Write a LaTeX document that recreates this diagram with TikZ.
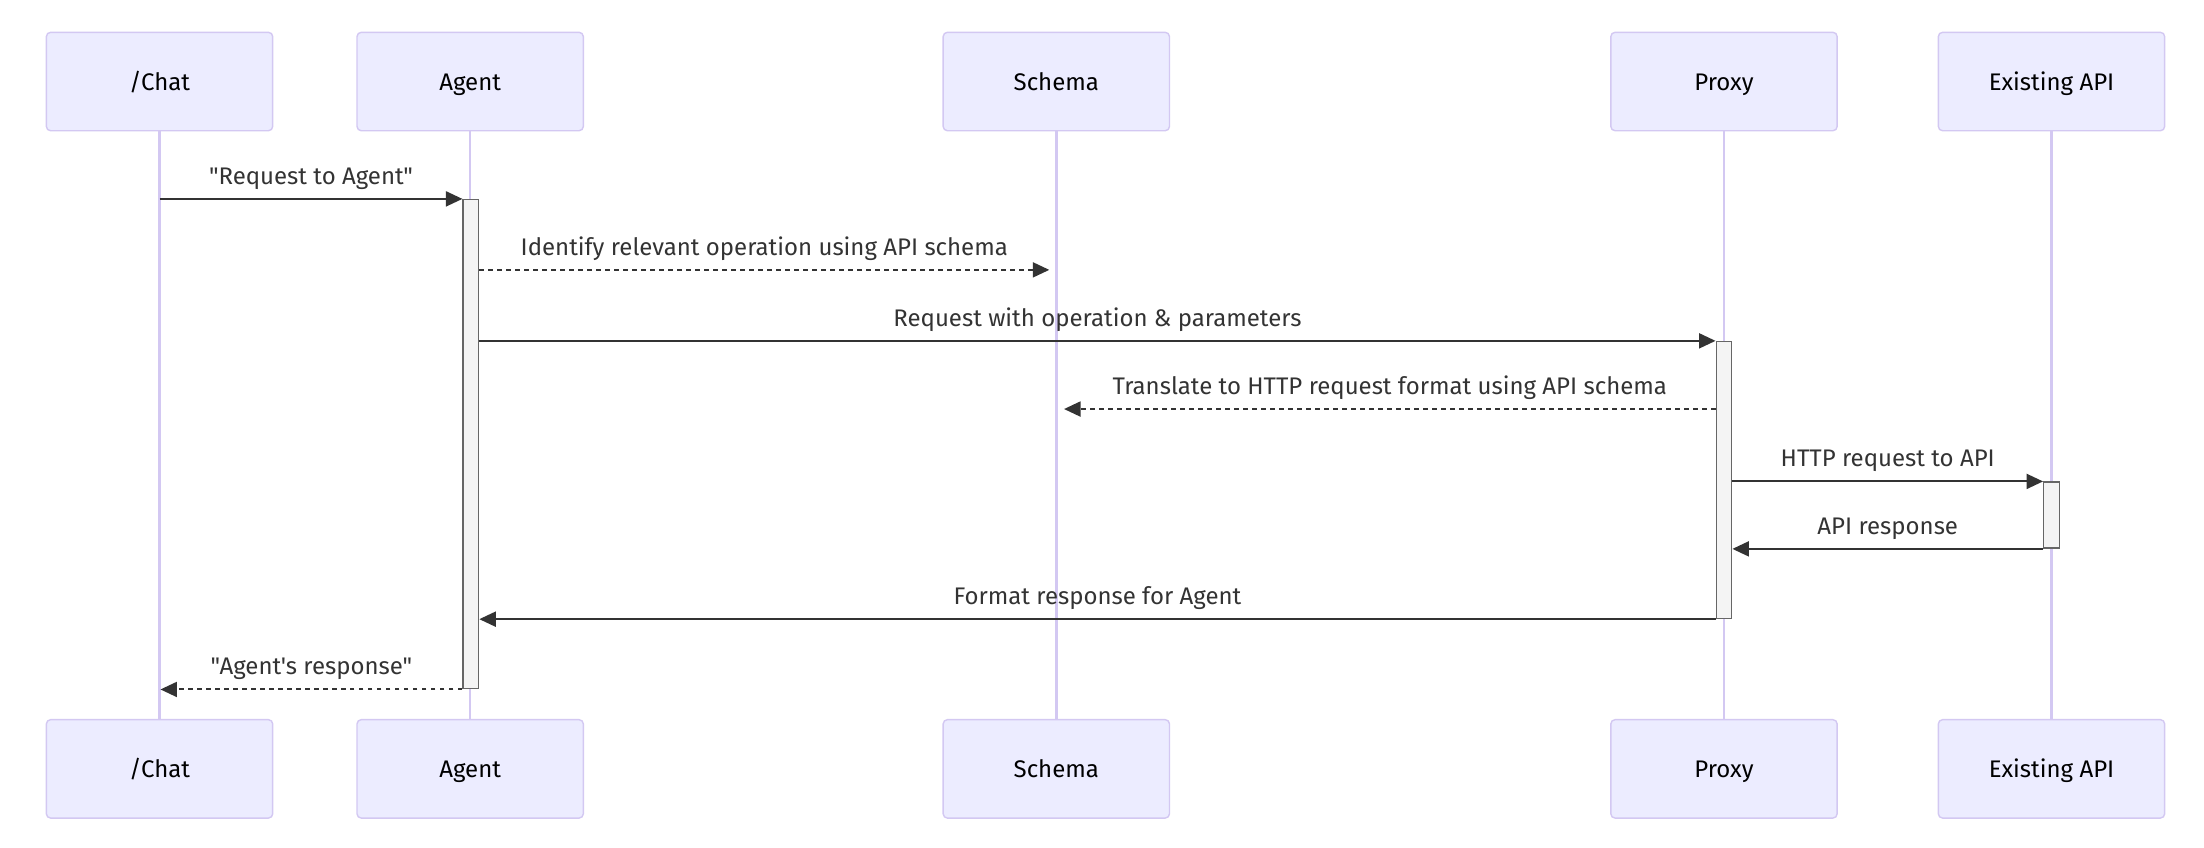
\documentclass[tikz,border=0pt]{standalone}
\usepackage{fontspec}
\usetikzlibrary{arrows.meta}
\newfontfamily\diagfont{Fira Sans}

\definecolor{actorfill}{HTML}{ECECFF}
\definecolor{actorline}{HTML}{D3C8F2}
\definecolor{actfill}{HTML}{F4F4F4}
\definecolor{actline}{HTML}{666666}
\definecolor{signal}{HTML}{333333}

\tikzset{
    actor/.style={rectangle, rounded corners=2.25pt, draw=actorline, fill=actorfill, line width=0.75pt,
        minimum width=120.75pt, minimum height=52.5pt, inner sep=0pt, text=black,
        text height=0.94em, text depth=0em},
    lifeline/.style={draw=actorline, line width=1.35pt},
    activation/.style={rectangle, draw=actline, fill=actfill, line width=0.75pt, minimum width=8.25pt, inner sep=0pt},
    msg/.style={draw=signal, line width=1.05pt, -{Triangle[length=8.8pt, width=8pt]}},
    reply/.style={msg, dash pattern=on 2.4pt off 2.4pt},
    lbl/.style={midway, above, inner sep=5pt, text=signal, text height=0.72em, text depth=0.22em}
}

\begin{document}
\begin{tikzpicture}[x=0.75pt, y=-0.75pt, font=\diagfont\fontsize{12.8pt}{15pt}\selectfont]
        \useasboundingbox (0, 0) rectangle (1568, 602.6);

        % actors, top and bottom
        \node[actor] (chatTop) at (113.5, 58) {/Chat};
        \node[actor] (agentTop) at (334.5, 58) {Agent};
        \node[actor] (schemaTop) at (751.5, 58) {Schema};
        \node[actor] (proxyTop) at (1226.5, 58) {Proxy};
        \node[actor] (apiTop) at (1459.5, 58) {Existing API};
        \node[actor] (chatBot) at (113.5, 547) {/Chat};
        \node[actor] (agentBot) at (334.5, 547) {Agent};
        \node[actor] (schemaBot) at (751.5, 547) {Schema};
        \node[actor] (proxyBot) at (1226.5, 547) {Proxy};
        \node[actor] (apiBot) at (1459.5, 547) {Existing API};

        \foreach \a in {chat, agent, schema, proxy, api}
            \draw[lifeline] (\a Top) -- (\a Bot);

        % activations
        \node[activation, minimum height=261pt] (actAgent) at (335, 316) {};
        \node[activation, minimum height=147.75pt] (actProxy) at (1226.5, 341.5) {};
        \node[activation, minimum height=35.25pt] (actApi) at (1459.5, 366.5) {};

        \coordinate (schemaIn) at (746.5, 192);
        \coordinate (schemaOut) at (757, 291);

        \draw[msg] (chatTop |- actAgent.north) -- (actAgent.north west) node[lbl] {"Request to Agent"};
        \draw[reply] (actAgent.east |- schemaIn) -- (schemaIn) node[lbl] {Identify relevant operation using API schema};
        \draw[msg] (actAgent.east |- actProxy.north) -- (actProxy.north west) node[lbl] {Request with operation \& parameters};
        \draw[reply] (actProxy.west |- schemaOut) -- (schemaOut) node[lbl] {Translate to HTTP request format using API schema};
        \draw[msg] (actProxy.east |- actApi.north) -- (actApi.north west) node[lbl] {HTTP request to API};
        \draw[msg] (actApi.south west) -- (actProxy.east |- actApi.south) node[lbl] {API response};
        \draw[msg] (actProxy.south west) -- (actAgent.east |- actProxy.south) node[lbl] {Format response for Agent};
        \draw[reply] (actAgent.south west) -- ([xshift=0.5]chatTop |- actAgent.south) node[lbl] {"Agent's response"};
    \end{tikzpicture}
\end{document}
